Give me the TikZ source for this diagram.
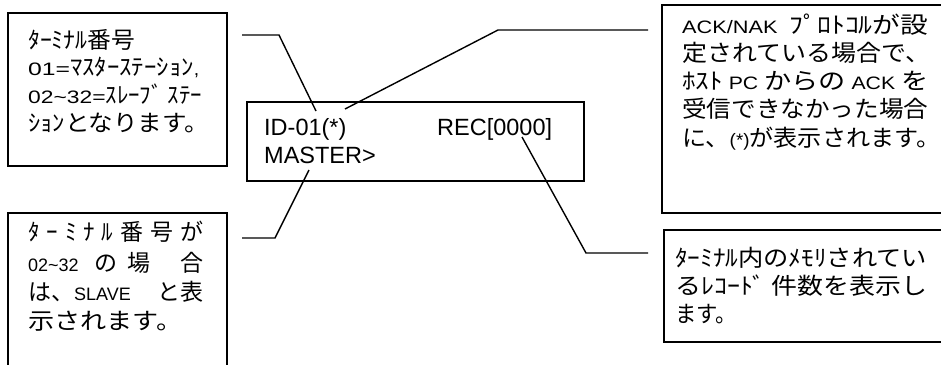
\documentclass[tikz,border=0pt]{standalone}
\usepackage{graphicx}
\usepackage{fontspec}
\setmainfont{Liberation Sans}
\newfontfamily\jp{Noto Sans CJK JP}
\newcommand\jpt[1]{{\jp\fontsize{23}{28}\selectfont #1}}
\newcommand\lt[1]{\scalebox{1.8}{\normalsize #1}}
\newcommand\ltw[1]{\scalebox{2.3}[1.8]{\normalsize #1}}
\newcommand\fitw[2]{\resizebox{#1}{\height}{#2}}
\begin{document}
\begin{tikzpicture}[x=1pt,y=-1pt,
  box/.style={draw=black,line width=1.8pt},
  lead/.style={draw=black,line width=1.4pt},
  txt/.style={anchor=base west,inner sep=0pt},
  lcd/.style={anchor=base west,inner sep=0pt,font=\fontsize{23.5}{28}\selectfont}]
\useasboundingbox (0,0) rectangle (941,364);
\fill[white] (0,0) rectangle (941,364);
% boxes
\draw[box] (8,13) rectangle (227,166);
\draw[box] (8,213) rectangle (227,370);
\draw[box] (247,102) rectangle (584,181);
\draw[box] (662,5) rectangle (950,213);
\draw[box] (664,230) rectangle (950,342);
% box 1 text
\node[txt] (a1) at (28,48) {\fitw{107pt}{\jpt{ﾀｰﾐﾅﾙ番号}}};
\node[txt] (a2) at (28,75) {\fitw{171pt}{\ltw{01=}\jpt{ﾏｽﾀｰｽﾃｰｼｮﾝ}\lt{,}}};
\node[txt] (a3) at (28,103) {\fitw{174pt}{\ltw{02\textasciitilde 32=}\jpt{ｽﾚｰﾌﾞ ｽﾃｰ}}};
\node[txt] (a4) at (28,131) {\fitw{181pt}{\jpt{ｼｮﾝとなります。}}};
% box 2 text
\node[txt] (c1) at (28,240) {\jp\fontsize{23}{28}\selectfont\makebox[175pt][l]{ﾀ\hfill ｰ\hfill ﾐ\hfill ﾅ\hfill ﾙ\hfill 番\hfill 号\hfill が}};
\node[txt] (c2) at (28,271) {\makebox[175pt][l]{\lt{02\textasciitilde 32}\hspace{16pt}\jpt{の}\hspace{10pt}\jpt{場}\hfill\jpt{合}}};
\node[txt] (c3) at (28,300) {\makebox[175pt][l]{\jpt{は、}\lt{SLAVE}\hfill\jpt{と表}}};
\node[txt] (c4) at (28,329) {\fitw{154pt}{\jpt{示されます。}}};
% center LCD text
\node[lcd] (id) at (264,135) {ID-01(*)};
\node[lcd] (rec) at (437,135) {REC[0000]};
\node[lcd] (ms) at (264,163) {MASTER>};
% box 4 text
\node[txt] (d1) at (682,33) {\fitw{246pt}{\lt{ACK/NAK}\hspace{10pt}\jpt{ﾌﾟﾛﾄｺﾙが設}}};
\node[txt] (d2) at (682,61) {\fitw{248pt}{\jpt{定されている場合で、}}};
\node[txt] (d3) at (682,89) {\fitw{246pt}{\jpt{ﾎｽﾄ}\hspace{5pt}\lt{PC}\hspace{5pt}\jpt{からの}\hspace{5pt}\lt{ACK}\hspace{5pt}\jpt{を}}};
\node[txt] (d4) at (682,117) {\fitw{246pt}{\jpt{受信できなかった場合}}};
\node[txt] (d5) at (682,146) {\fitw{258pt}{\jpt{に、}\lt{(*)}\jpt{が表示されます。}}};
% box 5 text
\node[txt] (e1) at (675,266) {\fitw{252pt}{\jpt{ﾀｰﾐﾅﾙ内のﾒﾓﾘされてい}}};
\node[txt] (e2) at (675,294) {\fitw{252pt}{\jpt{るﾚｺｰﾄﾞ 件数を表示し}}};
\node[txt] (e3) at (675,322) {\fitw{62pt}{\jpt{ます。}}};
% leader coordinates
\coordinate (p1s) at (242,35); \coordinate (p1k) at (279,35); \coordinate (p1e) at (316,111);
\coordinate (p2s) at (648,30); \coordinate (p2k) at (498,30); \coordinate (p2e) at (345,109);
\coordinate (p3s) at (242,238); \coordinate (p3k) at (275,238); \coordinate (p3e) at (309,170);
\coordinate (p4s) at (648,253); \coordinate (p4k) at (586,253); \coordinate (p4e) at (522,137);
\draw[lead] (p1s) -- (p1k) -- (p1e);
\draw[lead] (p2s) -- (p2k) -- (p2e);
\draw[lead] (p3s) -- (p3k) -- (p3e);
\draw[lead] (p4s) -- (p4k) -- (p4e);
\end{tikzpicture}
\end{document}
